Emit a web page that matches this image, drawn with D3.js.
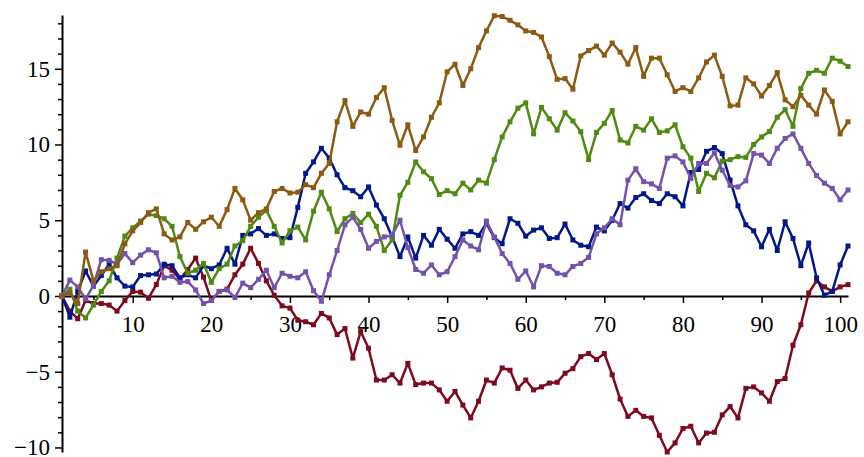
<!DOCTYPE html>
<html>
<head>
<meta charset="utf-8">
<script src="https://d3js.org/d3.v7.min.js"></script>
<style>
  body { margin: 0; background: #fff; }
  .tick text { font-family: "Liberation Serif", "Times New Roman", serif; font-size: 23px; fill: #000; }
</style>
</head>
<body>
<div id="chart"></div>
<script>
// step index of each point
const steps = d3.range(1, 102);

// the five walks
const redWalk = [0, -1.0, -1.5, -0.3, -0.5, -0.5, -0.6, -1.0, -0.3, 0.3,
  0.25, -0.15, 0.75, 2.0, 1.7, 1.1, 1.75, 2.5, 1.25, -0.3,
  0.3, 0.45, 1.4, 2.1, 3.15, 2.15, 1.0, 0.05, -0.65, -0.8,
  -1.6, -1.7, -1.9, -1.15, -1.45, -2.55, -2.15, -4.1, -2.35, -3.45,
  -5.55, -5.55, -5.2, -5.75, -4.45, -5.85, -5.75, -5.75, -6.2, -6.95,
  -6.3, -7.2, -8.05, -6.95, -5.55, -5.75, -4.75, -4.9, -6.1, -5.55,
  -6.2, -6.0, -5.75, -5.7, -5.1, -4.8, -4.0, -3.8, -4.2, -3.8,
  -5.2, -6.8, -7.95, -7.55, -7.95, -8.05, -9.2, -10.3, -9.7, -8.75,
  -8.6, -9.7, -9.05, -9.0, -7.85, -7.3, -8.05, -6.1, -6.0, -6.4,
  -6.95, -5.65, -5.45, -3.25, -1.9, 0.2, 1.0, 0.6, 0.3, 0.6, 0.75];

const blueWalk = [0, -1.4, 0.3, 1.65, 0.65, 1.35, 2.1, 1.2, 0.65, 0.6,
  1.35, 1.4, 1.45, 2.1, 2.0, 1.2, 1.4, 1.2, 2.0, 1.8,
  2.05, 3.15, 2.1, 4.0, 4.1, 4.45, 4.0, 4.1, 3.8, 3.85,
  5.85, 8.1, 8.85, 9.75, 9.1, 8.0, 7.15, 6.95, 6.55, 7.2,
  6.0, 5.1, 3.9, 2.6, 3.9, 2.5, 4.0, 3.35, 4.4, 3.75,
  3.15, 4.1, 4.25, 4.0, 4.8, 3.85, 3.45, 5.1, 4.8, 3.95,
  4.35, 4.5, 3.8, 3.85, 4.75, 3.7, 3.35, 3.25, 4.55, 4.3,
  5.0, 6.1, 5.8, 6.5, 6.75, 6.3, 6.1, 6.75, 6.55, 5.95,
  8.15, 8.35, 9.55, 9.8, 9.4, 7.65, 5.95, 4.7, 4.3, 3.25,
  4.4, 3.0, 4.9, 3.8, 2.0, 3.5, 1.2, 0.05, 0.3, 2.05, 3.3];

const greenWalk = [0, 0.45, -1.0, -1.45, -0.6, 0.3, 1.0, 2.5, 3.95, 4.5,
  4.95, 5.4, 5.3, 5.1, 4.6, 2.6, 1.5, 1.7, 2.15, 0.9,
  1.8, 2.1, 3.3, 3.65, 4.6, 5.2, 5.65, 4.6, 3.5, 4.3,
  4.55, 3.7, 5.6, 6.85, 5.75, 4.25, 5.1, 5.45, 4.85, 5.4,
  4.6, 3.0, 3.7, 6.65, 7.5, 8.85, 8.2, 7.75, 6.7, 6.95,
  6.75, 7.45, 7.0, 7.65, 7.45, 9.0, 10.5, 11.5, 12.4, 12.75,
  10.7, 12.45, 11.7, 10.95, 12.1, 11.55, 10.85, 9.0, 10.8, 11.4,
  12.25, 10.3, 10.1, 11.2, 10.95, 11.7, 10.8, 10.9, 11.3, 9.85,
  9.1, 6.9, 8.1, 7.8, 8.9, 9.0, 9.2, 9.15, 10.0, 10.5,
  10.85, 11.8, 12.3, 11.2, 13.7, 14.7, 14.9, 14.7, 15.7, 15.5, 15.15];

const purpleWalk = [0, 1.05, 0.6, -0.2, 0.7, 2.4, 2.35, 2.1, 2.8, 2.2,
  2.7, 3.05, 2.85, 1.2, 1.3, 0.9, 0.95, 0.4, -0.5, -0.3,
  0.3, 0.4, -0.1, 0.85, 0.55, 1.1, 1.7, 0.55, 1.5, 1.3,
  1.2, 1.6, 0.35, -0.35, 1.4, 3.0, 4.7, 5.2, 4.4, 3.15,
  3.6, 3.9, 4.0, 5.0, 3.2, 1.75, 1.5, 2.05, 1.4, 1.6,
  2.6, 3.7, 3.3, 3.05, 4.95, 3.9, 2.8, 2.15, 1.1, 1.65,
  0.6, 2.0, 1.95, 1.5, 1.4, 1.95, 2.15, 2.55, 4.1, 4.5,
  5.1, 4.7, 7.65, 8.4, 7.55, 7.4, 7.1, 9.1, 9.25, 8.85,
  7.75, 8.75, 8.75, 9.45, 8.3, 7.3, 7.2, 7.6, 9.4, 9.3,
  8.75, 9.75, 10.4, 10.7, 9.75, 8.75, 7.95, 7.45, 7.1, 6.35, 7.0];

const brownWalk = [0, 0.2, -0.5, 2.9, 1.0, 1.6, 1.8, 2.0, 3.45, 4.3,
  4.85, 5.5, 5.75, 4.1, 3.7, 3.9, 4.85, 4.4, 4.9, 5.2,
  4.6, 5.7, 7.1, 6.35, 5.0, 5.5, 5.75, 6.9, 7.1, 6.8,
  6.85, 7.35, 7.15, 8.1, 8.75, 11.5, 12.9, 11.2, 12.15, 12.0,
  13.1, 13.75, 11.6, 9.95, 11.3, 9.6, 10.5, 11.8, 12.75, 14.8,
  15.3, 13.9, 15.0, 16.4, 17.5, 18.5, 18.45, 18.2, 17.9, 17.5,
  17.4, 17.1, 15.8, 14.3, 14.35, 13.65, 15.85, 16.2, 16.5, 15.9,
  16.7, 16.1, 15.3, 16.4, 14.5, 15.7, 15.7, 14.6, 13.5, 13.75,
  13.5, 14.4, 15.45, 15.9, 14.5, 12.55, 12.6, 14.4, 14.0, 13.2,
  13.9, 14.75, 12.95, 12.5, 13.25, 12.6, 12.0, 13.6, 12.85, 10.7, 11.5];

const walks = [redWalk, blueWalk, greenWalk, purpleWalk, brownWalk];
const walkColors = ["#7d0a1e", "#00188a", "#4f8a12", "#7452ab", "#8c5a12"];

// tick labels
const xTicks = [10, 20, 30, 40, 50, 60, 70, 80, 90, 100];
const xMinorTicks = [5, 15, 25, 35, 45, 55, 65, 75, 85, 95];
const yTicks = [-10, -5, 0, 5, 10, 15];
const yMinorTicks = [-9, -8, -7, -6, -4, -3, -2, -1, 1, 2, 3, 4, 6, 7, 8, 9, 11, 12, 13, 14, 16, 17, 18];

const width = 864, height = 457;

const svg = d3.select("#chart")
  .append("svg")
    .attr("width", width)
    .attr("height", height);

const x = d3.scaleLinear()
  .domain([1, 101])
  .range([62, 848]);

const y = d3.scaleLinear()
  .domain([-10.3, 18.55])
  .range([452, 15]);

// x axis through y = 0
const gx = svg.append("g")
  .attr("transform", `translate(0,${y(0)})`)
  .call(d3.axisBottom(x).tickValues(xTicks).tickSize(7).tickSizeOuter(0).tickFormat(d3.format("d")));
gx.selectAll("text").attr("y", 20);

svg.append("g")
  .attr("transform", `translate(0,${y(0)})`)
  .call(d3.axisBottom(x).tickValues(xMinorTicks).tickSize(4).tickFormat(""))
  .call(g => g.select(".domain").remove());

// y axis at the first step
const gy = svg.append("g")
  .attr("transform", `translate(${x(1)},0)`)
  .call(d3.axisLeft(y).tickValues(yTicks).tickSize(7).tickSizeOuter(0));
gy.selectAll("text").attr("x", -12);

svg.append("g")
  .attr("transform", `translate(${x(1)},0)`)
  .call(d3.axisLeft(y).tickValues(yMinorTicks).tickSize(4).tickFormat(""))
  .call(g => g.select(".domain").remove());

svg.selectAll(".domain").attr("stroke", "#000").attr("stroke-width", 2);
svg.selectAll(".tick line").attr("stroke", "#000").attr("stroke-width", 1.5);

// lines and square markers
const line = d3.line()
  .x((d, i) => x(steps[i]))
  .y(d => y(d));

walks.forEach((walk, k) => {
  svg.append("path")
    .datum(walk)
    .attr("fill", "none")
    .attr("stroke", walkColors[k])
    .attr("stroke-width", 2.5)
    .attr("stroke-linejoin", "round")
    .attr("d", line);

  svg.append("g")
    .selectAll("rect")
    .data(walk)
    .join("rect")
      .attr("x", (d, i) => x(steps[i]) - 2.5)
      .attr("y", d => y(d) - 2.5)
      .attr("width", 5)
      .attr("height", 5)
      .attr("fill", walkColors[k]);
});
</script>
</body>
</html>
